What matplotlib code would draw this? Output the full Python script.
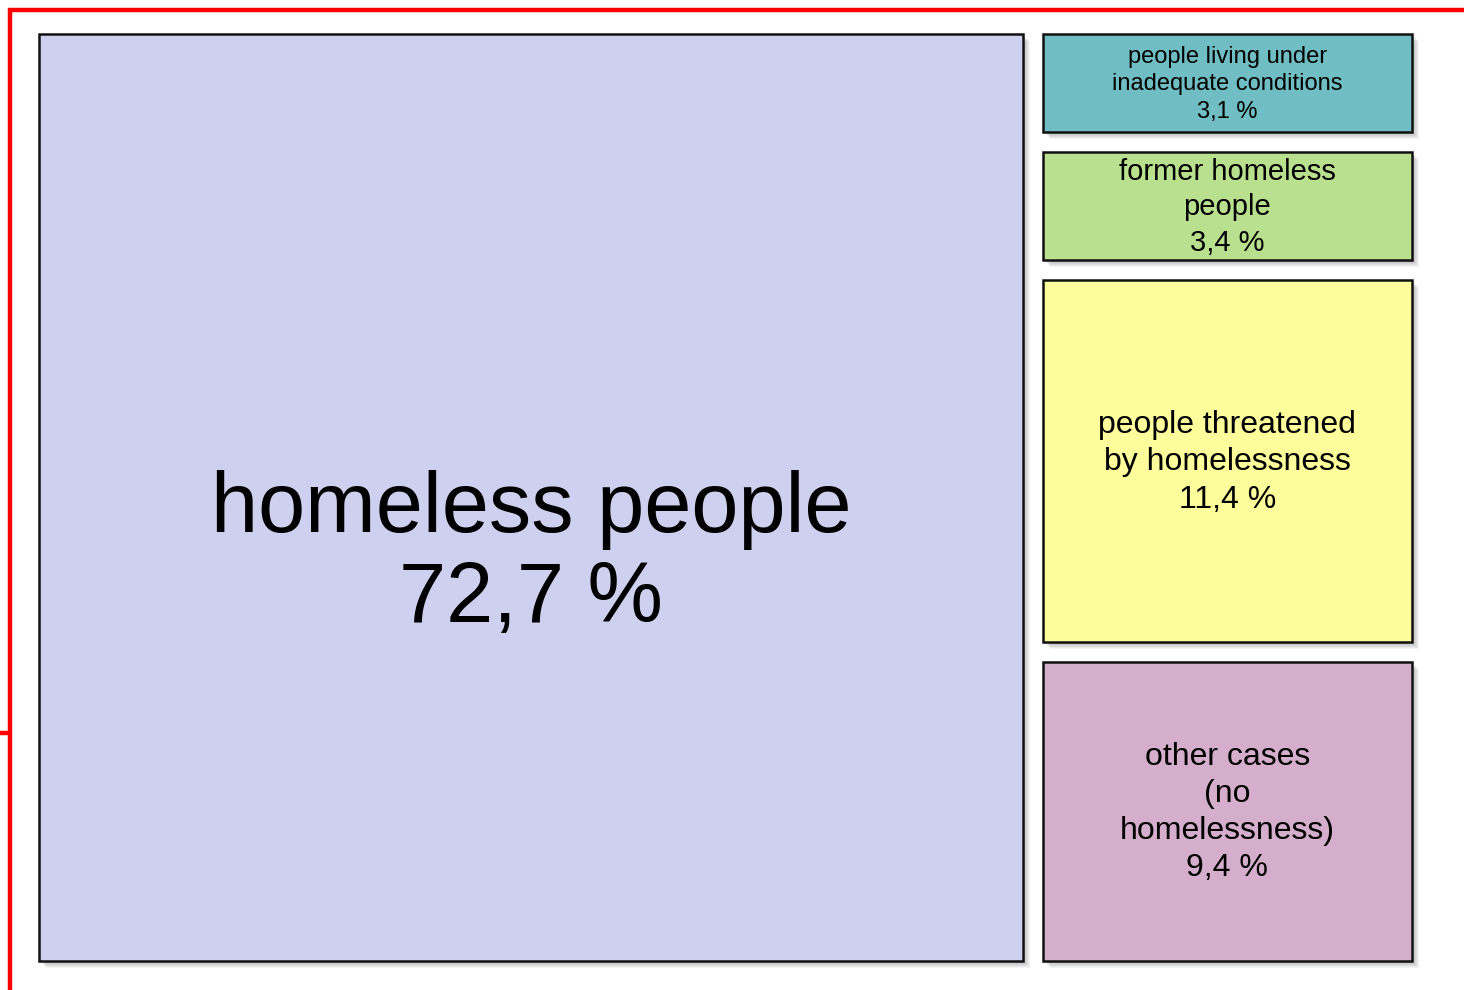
import matplotlib
matplotlib.use("Agg")
import matplotlib.pyplot as plt
from matplotlib.patches import Rectangle

# Share of cases by housing situation (percent)
main_label = "homeless people"
main_value = 72.7

side_labels = [
    "people living under\ninadequate conditions",
    "former homeless\npeople",
    "people threatened\nby homelessness",
    "other cases\n(no\nhomelessness)",
]
side_values = [3.1, 3.4, 11.4, 9.4]

main_color = "#CDD0EE"
side_colors = ["#70BEC4", "#B8E08F", "#FDFD9C", "#D4AECB"]
side_fontsizes = [17, 21, 23, 23]
side_spacing = [1.33, 1.33, 1.33, 1.30]


def fmt(v):
    return f"{v:.1f}".replace(".", ",") + " %"


W, H = 1464, 990
fig = plt.figure(figsize=(W / 100, H / 100), dpi=100)
ax = fig.add_axes([0, 0, 1, 1])
ax.set_xlim(0, W)
ax.set_ylim(H, 0)
ax.axis("off")

# frame lines
red = "#FF0000"
ax.plot([10, 10, W], [H, 10, 10], color=red, lw=3.2, solid_joinstyle="miter",
        solid_capstyle="butt")
ax.plot([0, 10], [733, 733], color=red, lw=3.2, solid_capstyle="butt")

# area of the map
x0, x1 = 39, 1412
y0, y1 = 34, 961
col_gap = 20
row_gap = 20

total = main_value + sum(side_values)
avail_w = (x1 - x0) - col_gap
main_w = avail_w * main_value / total
side_x0 = x0 + main_w + col_gap
side_w = x1 - side_x0


def draw_box(x, y, w, h, color):
    # soft drop shadow toward the lower right
    for k in range(1, 8):
        ax.add_patch(Rectangle((x + k, y + k), w, h, facecolor="#000000",
                               edgecolor="none", alpha=0.045, zorder=1))
    ax.add_patch(Rectangle((x, y), w, h, facecolor=color, edgecolor="#111111",
                           lw=1.8, zorder=2))


draw_box(x0, y0, main_w, y1 - y0, main_color)
ax.text(x0 + main_w / 2, y0 + (y1 - y0) * 0.562,
        f"{main_label}\n{fmt(main_value)}", ha="center", va="center",
        fontsize=61, family="Liberation Sans", linespacing=1.15, zorder=3)

side_total = sum(side_values)
avail_h = (y1 - y0) - row_gap * (len(side_values) - 1)
y = y0
for lab, v, c, fs, ls in zip(side_labels, side_values, side_colors,
                             side_fontsizes, side_spacing):
    h = avail_h * v / side_total
    draw_box(side_x0, y, side_w, h, c)
    ax.text(side_x0 + side_w / 2, y + h / 2 + 1, f"{lab}\n{fmt(v)}",
            ha="center", va="center", fontsize=fs, family="Liberation Sans",
            linespacing=ls, zorder=3)
    y += h + row_gap

fig.savefig("out.png", dpi=100)
